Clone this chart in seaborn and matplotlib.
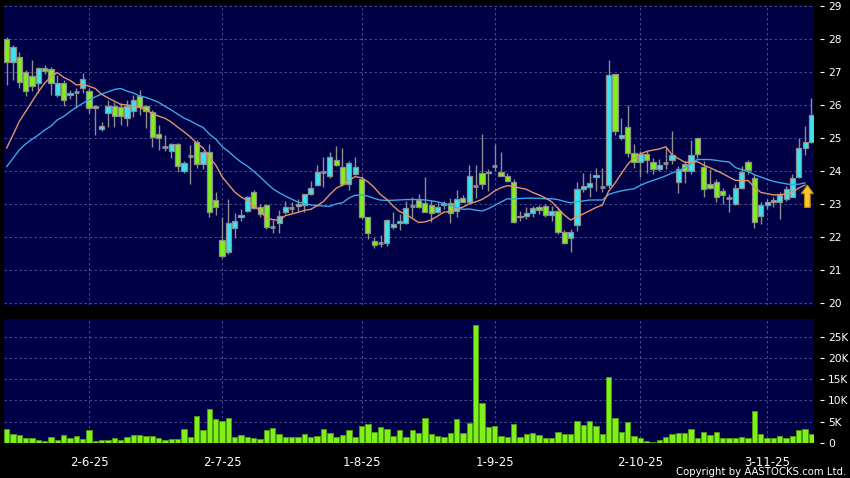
import numpy as np
import pandas as pd
import matplotlib
matplotlib.use("Agg")
import matplotlib.pyplot as plt
from matplotlib.patches import FancyArrow
import seaborn as sns

# daily candles (index 0 = first visible trading day)
opens = [28.00, 27.29, 27.44, 26.99, 26.89, 26.66, 27.13, 27.08, 26.30, 26.66,
         26.29, 26.39, 26.53, 26.43, 25.98, 25.26, 25.75, 25.97, 25.95, 25.60,
         25.83, 26.28, 25.97, 25.80, 25.11, 24.74, 24.61, 24.81, 24.00, 24.44,
         24.89, 24.21, 24.59, 23.12, 21.91, 21.56, 22.26, 22.60, 22.80, 23.35,
         22.91, 22.97, 22.30, 22.41, 22.75, 22.89, 22.95, 22.97, 23.30, 23.58,
         23.98, 23.85, 24.33, 24.13, 23.60, 23.90, 23.75, 22.60, 21.89, 21.83,
         21.83, 22.31, 22.41, 22.41, 22.94, 23.12, 23.04, 22.97, 22.75, 22.97,
         23.04, 22.80, 23.17, 23.06, 23.55, 23.93, 23.98, 24.15, 23.98, 23.86,
         23.68, 22.60, 22.65, 22.72, 22.90, 22.94, 22.66, 22.80, 22.16, 21.96,
         22.36, 23.44, 23.52, 23.81, 23.53, 23.58, 26.94, 24.99, 25.34, 24.56,
         24.28, 24.52, 24.28, 24.06, 24.23, 24.34, 23.68, 24.20, 24.00, 24.99,
         24.12, 23.60, 23.66, 23.40, 23.19, 23.01, 23.47, 24.28, 23.80, 22.65,
         22.96, 23.05, 23.05, 23.14, 23.22, 23.83, 24.69, 24.87]
highs = [28.05, 27.82, 27.60, 27.05, 27.36, 27.15, 27.20, 27.16, 26.90, 26.75,
         26.45, 26.50, 26.96, 26.50, 26.00, 25.50, 26.15, 26.10, 26.05, 26.15,
         26.30, 26.45, 26.00, 25.85, 25.40, 25.10, 24.85, 24.85, 24.30, 24.80,
         24.95, 24.60, 24.82, 23.37, 22.62, 23.14, 22.72, 22.85, 23.25, 23.42,
         23.00, 23.00, 22.52, 22.82, 23.09, 23.07, 23.15, 23.30, 23.70, 24.18,
         24.43, 24.59, 24.76, 24.69, 24.30, 24.43, 23.85, 22.60, 22.00, 22.05,
         22.55, 22.77, 22.70, 23.10, 23.22, 23.30, 23.83, 23.12, 23.07, 23.10,
         23.17, 23.42, 23.27, 24.18, 24.18, 25.13, 24.05, 24.82, 24.59, 23.95,
         23.75, 22.80, 22.90, 22.95, 22.98, 23.00, 22.95, 22.90, 22.20, 22.25,
         23.68, 23.93, 23.93, 24.10, 24.10, 27.36, 26.95, 25.60, 26.00, 24.83,
         24.60, 24.60, 24.40, 24.35, 24.74, 25.20, 24.15, 24.30, 24.94, 25.00,
         24.30, 24.05, 23.75, 23.50, 23.30, 23.60, 24.15, 24.32, 23.90, 23.05,
         23.15, 23.20, 23.35, 23.55, 23.90, 24.99, 25.35, 26.20]
lows = [26.60, 26.76, 26.50, 26.27, 26.42, 26.35, 26.95, 26.30, 26.25, 25.98,
        26.18, 25.90, 26.35, 25.75, 25.09, 25.20, 25.34, 25.34, 25.40, 25.37,
        25.65, 25.70, 25.30, 24.74, 24.64, 24.60, 24.38, 23.98, 23.95, 23.60,
        24.10, 24.05, 22.60, 22.67, 21.35, 21.50, 21.96, 22.50, 22.75, 22.85,
        22.60, 22.25, 22.11, 22.11, 22.70, 22.72, 22.75, 22.75, 23.28, 23.55,
        23.53, 23.80, 24.15, 23.55, 23.42, 23.88, 22.55, 21.95, 21.66, 21.70,
        21.72, 22.25, 22.20, 22.38, 22.61, 22.88, 22.75, 22.46, 22.72, 22.85,
        22.41, 22.62, 23.05, 23.04, 23.17, 23.45, 23.40, 24.00, 23.85, 23.68,
        22.42, 22.50, 22.55, 22.60, 22.70, 22.60, 22.50, 22.10, 21.80, 21.55,
        22.17, 23.35, 23.20, 23.40, 23.35, 23.50, 25.10, 24.95, 24.41, 24.10,
        23.83, 23.95, 23.90, 24.00, 24.05, 24.20, 23.32, 23.65, 23.90, 24.40,
        23.20, 23.45, 23.05, 23.00, 22.75, 22.98, 23.45, 23.90, 22.26, 22.38,
        22.85, 22.90, 22.55, 23.10, 23.20, 23.80, 24.48, 24.85]
closes = [27.30, 27.75, 26.69, 26.43, 26.59, 27.13, 27.04, 26.66, 26.66, 26.15,
          26.37, 26.39, 26.79, 25.90, 25.90, 25.37, 25.97, 25.67, 25.67, 25.97,
          26.15, 25.95, 25.82, 25.04, 24.99, 24.74, 24.81, 24.15, 24.25, 24.44,
          24.21, 24.57, 22.77, 22.90, 21.42, 22.41, 22.50, 22.66, 23.20, 22.87,
          22.71, 22.30, 22.30, 22.65, 22.90, 22.89, 22.99, 23.29, 23.50, 23.98,
          23.98, 24.41, 24.18, 23.61, 24.25, 24.13, 22.60, 22.11, 21.76, 21.83,
          22.52, 22.40, 22.48, 22.87, 22.94, 22.90, 22.77, 22.72, 22.90, 23.04,
          22.72, 23.14, 23.07, 23.85, 23.55, 23.60, 23.93, 24.15, 23.86, 23.70,
          22.47, 22.65, 22.72, 22.87, 22.82, 22.68, 22.78, 22.16, 21.83, 22.16,
          23.44, 23.56, 23.64, 23.88, 23.53, 26.92, 25.20, 25.09, 24.56, 24.28,
          24.52, 24.32, 24.06, 24.18, 24.23, 24.48, 24.05, 24.00, 24.48, 24.53,
          23.46, 23.50, 23.20, 23.27, 23.19, 23.47, 23.98, 24.04, 22.46, 22.96,
          23.07, 23.12, 23.27, 23.45, 23.80, 24.71, 24.87, 25.70]
# volume in thousands of shares
volume_k = [3.4, 2.2, 1.9, 1.1, 1.2, 0.8, 0.5, 1.3, 0.6, 1.9,
            1.25, 1.6, 1.0, 3.0, 0.5, 0.7, 0.7, 1.2, 0.8, 1.3,
            1.8, 1.8, 1.6, 1.6, 1.1, 0.8, 1.0, 1.0, 3.2, 1.5,
            6.3, 3.0, 8.1, 5.7, 5.2, 5.9, 1.3, 1.9, 1.5, 1.25,
            0.9, 3.0, 3.6, 2.2, 1.5, 1.3, 1.5, 2.2, 1.5, 1.6,
            3.2, 2.4, 1.3, 1.8, 3.0, 1.5, 4.1, 4.5, 2.7, 3.8,
            3.4, 1.7, 3.0, 1.5, 3.0, 2.4, 5.9, 2.2, 1.6, 1.3,
            2.4, 5.6, 2.3, 4.8, 27.7, 9.4, 3.75, 4.0, 1.7, 1.4,
            4.4, 1.5, 2.0, 2.4, 1.9, 1.1, 1.1, 2.6, 2.0, 2.1,
            5.2, 4.2, 5.2, 4.1, 2.1, 15.4, 5.9, 2.6, 4.9, 1.7,
            1.2, 0.4, 0.3, 0.6, 1.5, 2.0, 2.3, 2.4, 3.4, 1.25,
            2.7, 1.9, 2.5, 1.2, 1.2, 1.2, 1.5, 1.1, 7.5, 2.1,
            1.1, 1.1, 1.7, 1.1, 1.6, 3.0, 3.4, 2.0]
# moving averages before enough visible closes exist
ma10_head = [24.69, 25.09, 25.50, 25.80, 26.10, 26.40, 26.66, 26.86, 26.98]
ma20_head = [24.13, 24.38, 24.64, 24.82, 24.96, 25.09, 25.24, 25.36, 25.55, 25.65,
             25.80, 25.93, 26.05, 26.15, 26.25, 26.33, 26.40, 26.47, 26.50]

date_pos = [13, 34, 56, 77, 100, 120]
date_labels = ["2-6-25", "2-7-25", "1-8-25", "1-9-25", "2-10-25", "3-11-25"]
price_ticks = list(range(20, 30))
vol_ticks = [0, 5, 10, 15, 20, 25]
vol_labels = ["0", "5K", "10K", "15K", "20K", "25K"]

sns.set_style("dark")
plt.rcParams['font.family'] = ['DejaVu Sans']

BG = '#000046'
GRID = '#55559a'
CYAN = '#38e4f2'
LIME = '#7ff01a'
WICK = '#8e8e8e'

df = pd.DataFrame({"open": opens, "high": highs, "low": lows, "close": closes,
                   "vol": np.array(volume_k) * 1000})
df["idx"] = np.arange(len(df))
ma10 = df["close"].rolling(10).mean()
ma10.iloc[:9] = ma10_head
ma20 = df["close"].rolling(20).mean()
ma20.iloc[:19] = ma20_head

fig = plt.figure(figsize=(8.5, 4.78), dpi=100, facecolor='black')
ax = fig.add_axes([4 / 850, 1 - 305 / 478, 810 / 850, 300 / 478])
axv = fig.add_axes([4 / 850, 1 - 443 / 478, 810 / 850, 124 / 478])

for a in (ax, axv):
    a.set_facecolor(BG)
    for s in a.spines.values():
        s.set_visible(False)
    a.spines['right'].set_position(('outward', 4))
    a.spines['bottom'].set_position(('outward', 3))
    a.yaxis.tick_right()
    a.set_xlim(-0.41, 127.4)
    a.set_xticks(date_pos)
    a.grid(True, color=GRID, lw=0.6, ls=(0, (3, 3)))
    a.tick_params(axis='y', colors='white', length=3, width=0.8, pad=3, labelsize=7.7)
    a.set_axisbelow(True)

# candles
up = df["close"] > df["open"]
dn = df["close"] < df["open"]
eq = ~(up | dn)
ax.vlines(df["idx"], df["low"], df["high"], color=WICK, lw=1, zorder=2)
ax.bar(df["idx"][up], (df["close"] - df["open"])[up], bottom=df["open"][up], width=0.82,
       color=CYAN, edgecolor=WICK, lw=0.9, zorder=3)
ax.bar(df["idx"][dn], (df["close"] - df["open"])[dn], bottom=df["open"][dn], width=0.82,
       color=LIME, edgecolor=WICK, lw=0.9, zorder=3)
ax.hlines(df["close"][eq], df["idx"][eq] - 0.42, df["idx"][eq] + 0.42, color=WICK, lw=2, zorder=3)

# moving averages (latest session not yet included)
sns.lineplot(x=df["idx"][:-1], y=ma20[:-1], ax=ax, color='#3aa6e6', lw=1.0, zorder=4)
sns.lineplot(x=df["idx"][:-1], y=ma10[:-1], ax=ax, color='#e2946a', lw=1.0, zorder=4)

tip = ma10.iloc[-2]
ax.add_patch(FancyArrow(df["idx"].iloc[-1] - 0.65, tip - 0.68, 0, 0.68, width=0.9,
                        head_width=1.9, head_length=0.26, length_includes_head=True,
                        fc='#f7c531', ec='#b88600', lw=0.8, zorder=6))

ax.set_ylim(19.94, 29.03)
ax.set_yticks(price_ticks)
ax.set_yticklabels([str(p) for p in price_ticks])
ax.tick_params(axis='x', bottom=False, labelbottom=False)
ax.set_xlabel("")
ax.set_ylabel("")

# volume
axv.bar(df["idx"], df["vol"], width=0.85, color=LIME, edgecolor='#4c9a10', lw=0.7, zorder=3)
axv.set_ylim(0, 29150)
axv.set_yticks([v * 1000 for v in vol_ticks])
axv.set_yticklabels(vol_labels)
axv.set_xticklabels(date_labels)
axv.tick_params(axis='x', colors='#bbbbbb', labelcolor='white', length=3, width=0.8,
                pad=3, labelsize=8.5)

fig.text(846 / 850, 1 - 472 / 478, "Copyright by AASTOCKS.com Ltd.", color='white',
         fontsize=7.3, ha='right', va='center')

fig.savefig("out.png", dpi=100, facecolor='black')
